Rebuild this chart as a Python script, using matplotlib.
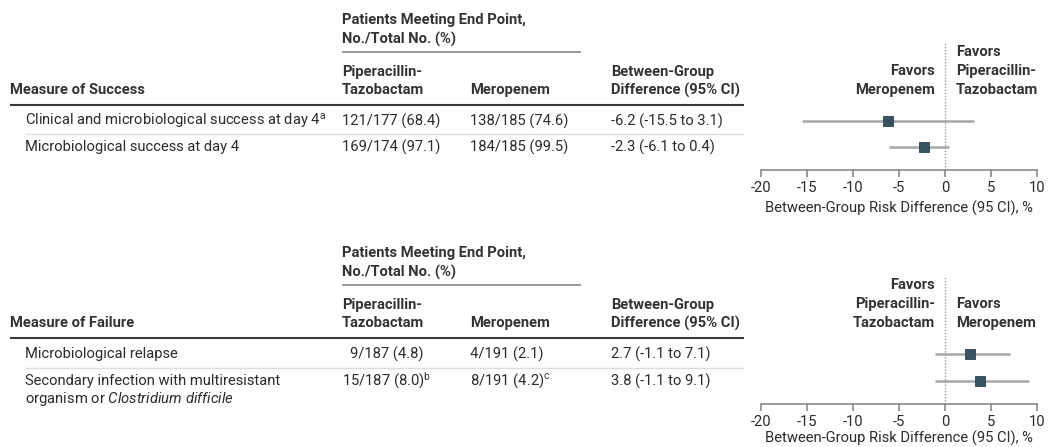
import matplotlib
matplotlib.use("Agg")
import matplotlib.pyplot as plt

plt.rcParams["font.family"] = ["Roboto", "DejaVu Sans"]
plt.rcParams["mathtext.fontset"] = "custom"
plt.rcParams["mathtext.rm"] = "Roboto"
plt.rcParams["mathtext.it"] = "Roboto:italic"
plt.rcParams["mathtext.bf"] = "Roboto:bold"

# ---- data ----------------------------------------------------------------
success_measures = ["Clinical and microbiological success at day 4$^{\\mathrm{a}}$",
                    "Microbiological success at day 4"]
success_pip = ["121/177 (68.4)", "169/174 (97.1)"]
success_mer = ["138/185 (74.6)", "184/185 (99.5)"]
success_diff = [-6.2, -2.3]
success_lo = [-15.5, -6.1]
success_hi = [3.1, 0.4]

failure_measures = ["Microbiological relapse",
                    "Secondary infection with multiresistant\n"
                    "organism or $\\mathit{Clostridium\\ difficile}$"]
failure_pip = ["9/187 (4.8)", "15/187 (8.0)$^{\\mathrm{b}}$"]
failure_mer = ["4/191 (2.1)", "8/191 (4.2)$^{\\mathrm{c}}$"]
failure_diff = [2.7, 3.8]
failure_lo = [-1.1, -1.1]
failure_hi = [7.1, 9.1]

ticks = [-20, -15, -10, -5, 0, 5, 10]
xlabel = "Between-Group Risk Difference (95 CI), %"

# ---- styling -------------------------------------------------------------
W, H = 1050, 447
TXT = "#2b2b2b"
HEAD = "#333333"
MARK = "#375261"
CI = "#a8a8a8"
FS = 10.6
HW = "semibold"

fig = plt.figure(figsize=(W / 100, H / 100), dpi=100)
canvas = fig.add_axes([0, 0, 1, 1])
canvas.set_xlim(0, W)
canvas.set_ylim(H, 0)
canvas.axis("off")

X_LABEL_HEAD, X_LABEL = 10, 25
X_PIP, X_MER, X_DIFF = 342, 470, 611
X_RULE_END = 744
AX_LEFT, AX_RIGHT = 761, 1037


def fmt_diff(d, lo, hi):
    return f"{d:.1f} ({lo:.1f} to {hi:.1f})"


def head(x, y, s, **kw):
    canvas.text(x, y, s, color=HEAD, fontsize=FS, weight=HW, va="center", **kw)


def panel(y0, title, measures, pip, mer, diff, lo, hi, left_fav, right_fav,
          row_y, pip_x, axis_y, dot_top, xlabel_pad):
    # group header
    head(X_PIP, y0 + 20, "Patients Meeting End Point,")
    head(X_PIP, y0 + 39, "No./Total No. (%)")
    canvas.plot([X_PIP, 581], [y0 + 52] * 2, color="#9a9a9a", lw=1.4,
                solid_capstyle="butt")
    # column headers
    head(X_LABEL_HEAD, y0 + 90, title)
    head(X_PIP, y0 + 72, "Piperacillin-")
    head(X_PIP, y0 + 90, "Tazobactam")
    head(X_MER, y0 + 90, "Meropenem")
    head(X_DIFF, y0 + 72, "Between-Group")
    head(X_DIFF, y0 + 90, "Difference (95% CI)")
    canvas.plot([X_LABEL_HEAD, X_RULE_END], [y0 + 105] * 2, color="#3a3a3a",
                lw=1.5, solid_capstyle="butt")
    # rows
    for i, ry in enumerate(row_y):
        lines = measures[i].split("\n")
        for k, line in enumerate(lines):
            canvas.text(X_LABEL, ry + 18 * k, line, color=TXT, fontsize=FS,
                        va="center")
        canvas.text(pip_x[i], ry, pip[i], color=TXT, fontsize=FS, va="center")
        canvas.text(X_MER, ry, mer[i], color=TXT, fontsize=FS, va="center")
        canvas.text(X_DIFF, ry, fmt_diff(diff[i], lo[i], hi[i]), color=TXT,
                    fontsize=FS, va="center")
    sep = (row_y[0] + row_y[1]) / 2
    canvas.plot([X_LABEL, X_RULE_END], [sep] * 2, color="#dedede", lw=1.0,
                solid_capstyle="butt")

    # forest plot axes: rows are indexed 0..n-1
    step = row_y[1] - row_y[0]
    ax = fig.add_axes([AX_LEFT / W, 1 - axis_y / H,
                       (AX_RIGHT - AX_LEFT) / W, (axis_y - dot_top) / H])
    ax.set_xlim(ticks[0], ticks[-1])
    ax.set_ylim((axis_y - row_y[0]) / step, -(row_y[0] - dot_top) / step)
    ax.patch.set_alpha(0)
    for s in ("top", "right", "left"):
        ax.spines[s].set_visible(False)
    ax.spines["bottom"].set_color("#8a8a8a")
    ax.spines["bottom"].set_linewidth(1.2)
    ax.set_yticks([])
    ax.set_xticks(ticks)
    ax.set_xticklabels([str(t) for t in ticks])
    ax.tick_params(axis="x", direction="out", length=5, width=1.2,
                   color="#8a8a8a", labelcolor=TXT, labelsize=FS, pad=3)
    ax.set_xlabel(xlabel, color=TXT, fontsize=FS, labelpad=xlabel_pad)
    ax.axvline(0, color="#9a9a9a", lw=1.0, ls=(0, (1, 1.2)))
    rows = list(range(len(diff)))
    ax.hlines(rows, lo, hi, color=CI, lw=1.8)
    ax.plot(diff, rows, "s", color=MARK, markersize=7.4, mec="#2c4450",
            mew=0.6, zorder=3)

    # favours labels
    for k, line in enumerate(reversed(left_fav)):
        head(935, y0 + 90 - 19 * k, line, ha="right")
    for k, line in enumerate(reversed(right_fav)):
        head(956, y0 + 90 - 19 * k, line, ha="left")


panel(0, "Measure of Success", success_measures, success_pip, success_mer,
      success_diff, success_lo, success_hi,
      ["Favors", "Meropenem"], ["Favors", "Piperacillin-", "Tazobactam"],
      row_y=[121, 147], pip_x=[X_PIP, X_PIP], axis_y=170, dot_top=43,
      xlabel_pad=4)

panel(233, "Measure of Failure", failure_measures, failure_pip, failure_mer,
      failure_diff, failure_lo, failure_hi,
      ["Favors", "Piperacillin-", "Tazobactam"], ["Favors", "Meropenem"],
      row_y=[354, 381], pip_x=[350, X_PIP], axis_y=404, dot_top=277,
      xlabel_pad=1)

fig.savefig("out.png", dpi=100)
